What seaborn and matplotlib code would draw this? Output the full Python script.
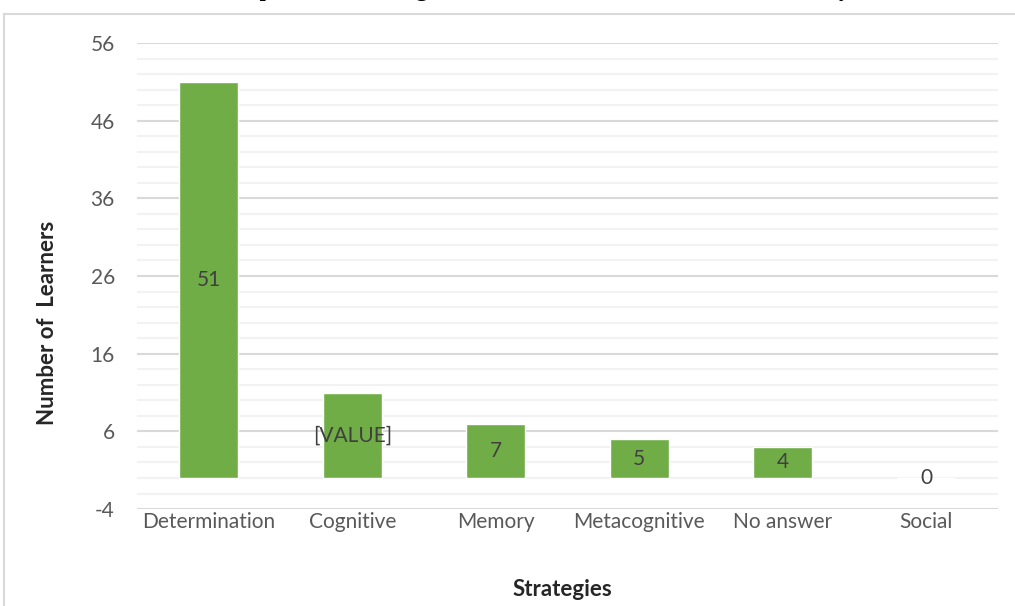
import matplotlib
matplotlib.use('Agg')
import matplotlib.pyplot as plt
import matplotlib.patches as mpatches
from matplotlib.ticker import MultipleLocator
import pandas as pd
import seaborn as sns

sns.set_style('white')
plt.rcParams['font.family'] = ['Lato', 'DejaVu Sans']
plt.rcParams['axes.unicode_minus'] = False

# data
strategies = ['Determination', 'Cognitive', 'Memory', 'Metacognitive', 'No answer', 'Social']
learners = [51, 11, 7, 5, 4, 0]
bar_labels = ['51', '[VALUE]', '7', '5', '4', '0']

df = pd.DataFrame({'strategy': strategies, 'learners': learners})

fig = plt.figure(figsize=(10.15, 6.06), dpi=100)
ax = fig.add_axes([0.135, 0.160, 0.848, 0.769])

# chart area border (Excel style)
fig.patches.append(mpatches.Rectangle((0.004, -0.1), 1.2, 1.077, transform=fig.transFigure,
                                      fill=False, edgecolor='#d9d9d9', linewidth=1.5, zorder=0))

sns.barplot(data=df, x='strategy', y='learners', order=strategies, color='#70ad47',
            saturation=1, width=0.41, ax=ax, zorder=3)

ax.set_ylim(-4, 56)
ax.set_xlim(-0.5, 5.5)
ax.yaxis.set_major_locator(MultipleLocator(10, offset=6))
ax.yaxis.set_minor_locator(MultipleLocator(2))
ax.grid(which='major', axis='y', color='#d9d9d9', linewidth=1.5, zorder=0)
ax.grid(which='minor', axis='y', color='#f2f2f2', linewidth=1.5, zorder=0)
ax.set_axisbelow(True)
for s in ax.spines.values():
    s.set_visible(False)
ax.tick_params(axis='both', which='both', length=0, labelsize=15, labelcolor='#595959')
ax.tick_params(axis='y', pad=16)
ax.tick_params(axis='x', pad=2)

ax.bar_label(ax.containers[0], labels=bar_labels, label_type='center',
             fontsize=15, color='#404040')

ax.set_xlabel('Strategies', fontsize=16, fontweight='bold', color='#262626')
ax.xaxis.set_label_coords(0.494, -0.150)
ax.set_ylabel('Number of  Learners', fontsize=16, fontweight='bold', color='#262626')
ax.yaxis.set_label_coords(-0.092, 0.40)

# title, mostly cut off at the top of the image
fig.text(0.53, 1.006, "Respondents' Strategies Used to Discover the Sense of Vocabulary",
         ha='center', va='baseline', fontsize=16, fontweight='bold',
         family=['Liberation Serif'], color='black')

fig.savefig('out.png', dpi=100)
